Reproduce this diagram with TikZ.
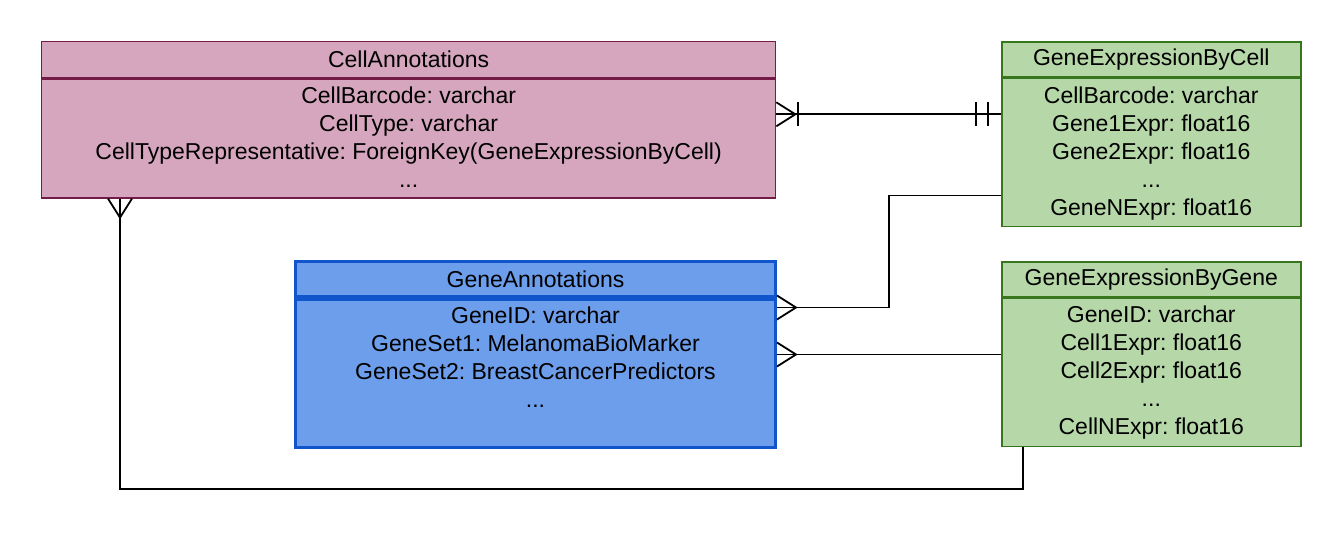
\documentclass[tikz,border=0pt]{standalone}
\usepackage{fontspec}
\setmainfont{Liberation Sans}
\usetikzlibrary{calc}
\definecolor{CellPink}{HTML}{D5A6BD}
\definecolor{CellLine}{HTML}{741B47}
\definecolor{ExprGreen}{HTML}{B6D7A8}
\definecolor{ExprLine}{HTML}{38761D}
\definecolor{GeneBlue}{HTML}{6D9EEB}
\definecolor{GeneLine}{HTML}{1155CC}
\frenchspacing

\tikzset{
  tblhead/.style={anchor=north west, inner sep=0pt, minimum width=#1},
  tblbody/.style={anchor=north west, inner sep=0pt, minimum width=#1},
  rows/.style={anchor=north, inner sep=0pt, align=center},
  conn/.style={black, line width=1.8pt},
  crow/.pic={\draw[conn] (0,-12) -- (19,0) -- (0,12);},
  onebar/.pic={\draw[conn] (0,-12) -- (0,12);}
}

\begin{document}
\begin{tikzpicture}[x=1pt,y=-1pt, font=\fontsize{23}{28}\selectfont]
  \path[use as bounding box] (0,0) rectangle (1344,534);

  % CellAnnotations
  \node[tblhead=734pt, minimum height=36pt, fill=CellPink, draw=CellLine, line width=1.3pt] (caHead) at (41,41) {CellAnnotations};
  \node[tblbody=734pt, minimum height=119pt, fill=CellPink, draw=CellLine, line width=1.3pt] (caBody) at (caHead.south west) {};
  \node[rows] (caRows) at ($(caBody.north)+(0,8)$) {CellBarcode: varchar\\CellType: varchar\\CellTypeRepresentative: ForeignKey(GeneExpressionByCell)\\...};

  % GeneExpressionByCell
  \node[tblhead=299pt, minimum height=35pt, fill=ExprGreen, draw=ExprLine, line width=1.6pt] (gebcHead) at (1001,41) {GeneExpressionByCell};
  \node[tblbody=299pt, minimum height=148pt, fill=ExprGreen, draw=ExprLine, line width=1.6pt] (gebcBody) at (gebcHead.south west) {};
  \node[rows] (gebcRows) at ($(gebcBody.north)+(0,9)$) {CellBarcode: varchar\\Gene1Expr: float16\\Gene2Expr: float16\\...\\GeneNExpr: float16};

  % GeneAnnotations
  \node[tblhead=480pt, minimum height=35.5pt, fill=GeneBlue, draw=GeneLine, line width=3pt] (gaHead) at (294,260) {GeneAnnotations};
  \node[tblbody=480pt, minimum height=147.5pt, fill=GeneBlue, draw=GeneLine, line width=3pt] (gaBody) at (gaHead.south west) {};
  \node[rows] (gaRows) at ($(gaBody.north)+(0,8)$) {GeneID: varchar\\GeneSet1: MelanomaBioMarker\\GeneSet2: BreastCancerPredictors\\...};

  % GeneExpressionByGene
  \node[tblhead=299pt, minimum height=35pt, fill=ExprGreen, draw=ExprLine, line width=1.6pt] (gebgHead) at (1001,261) {GeneExpressionByGene};
  \node[tblbody=299pt, minimum height=148pt, fill=ExprGreen, draw=ExprLine, line width=1.6pt] (gebgBody) at (gebgHead.south west) {};
  \node[rows] (gebgRows) at ($(gebgBody.north)+(0,8)$) {GeneID: varchar\\Cell1Expr: float16\\Cell2Expr: float16\\...\\CellNExpr: float16};

  % relations
  \coordinate (caRight) at ($(caBody.north east)+(0,36)$);
  \draw[conn] (caRight) -- (caRight -| gebcBody.west);
  \pic at (caRight) {crow};
  \pic at ($(caRight)+(22,0)$) {onebar};
  \pic at ($(caRight -| gebcBody.west)+(-25,0)$) {onebar};
  \pic at ($(caRight -| gebcBody.west)+(-13,0)$) {onebar};

  \coordinate (gaTop) at ($(gaBody.north east)+(0,9)$);
  \coordinate (gebcLow) at ($(gebcBody.north west)+(0,118)$);
  \draw[conn] (gaTop) -- ++(112,0) |- (gebcLow);
  \pic at (gaTop) {crow};

  \coordinate (gaMid) at ($(gaBody.north east)+(0,56)$);
  \draw[conn] (gaMid) -- (gaMid -| gebgBody.west);
  \pic at (gaMid) {crow};

  \coordinate (caFoot) at ($(caBody.south west)+(79,0)$);
  \coordinate (gebgFoot) at ($(gebgBody.south west)+(22,0)$);
  \draw[conn] (caFoot) -- ++(0,290) -| (gebgFoot);
  \pic[rotate=-90] at (caFoot) {crow};
\end{tikzpicture}
\end{document}
